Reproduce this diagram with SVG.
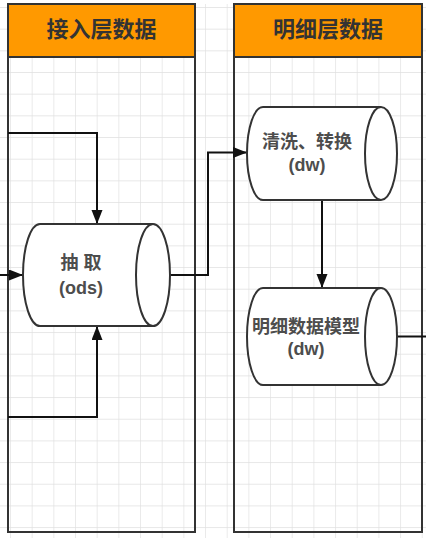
<svg xmlns="http://www.w3.org/2000/svg" width="426" height="538" viewBox="0 0 426 538">
<style>
.lane{fill:none;stroke:#333;stroke-width:2}
.hdr{fill:#ff9900;stroke:#333;stroke-width:2}
.htxt{font-family:"Liberation Sans","Noto Sans CJK SC",sans-serif;font-size:22px;font-weight:bold;fill:#333;text-anchor:middle}
.cyl{fill:#fff;stroke:#333;stroke-width:2}
.ctxt{font-family:"Liberation Sans","Noto Sans CJK SC",sans-serif;font-size:18px;font-weight:bold;fill:#4d4d4d;text-anchor:middle}
.edge{fill:none;stroke:#111;stroke-width:2}
</style>
<defs>
<pattern id="grid" patternUnits="userSpaceOnUse" x="10" y="7" width="21.67" height="21.67">
<path d="M0 0H21.67M0 0V21.67" fill="none" stroke="#e0e0e0" stroke-width="1.3"/>
</pattern>
<marker id="arr" markerUnits="userSpaceOnUse" markerWidth="16" markerHeight="12" refX="14" refY="5.5" orient="auto">
<path d="M0 0L14 5.5L0 11Z" fill="#111"/>
</marker>
</defs>
<rect x="0" y="0" width="426" height="538" fill="#fff"/>
<rect x="0" y="0" width="426" height="538" fill="url(#grid)"/>
<rect x="0" y="0" width="426" height="4" fill="#fff"/>
<g id="lane-ods">
<rect class="lane" x="8" y="4" width="187" height="528"/>
<rect class="hdr" x="8" y="4" width="187" height="53"/>
<text class="htxt" x="101.5" y="37">接入层数据</text>
</g>
<g id="lane-dw">
<rect class="lane" x="234" y="4" width="188" height="528"/>
<rect class="hdr" x="234" y="4" width="188" height="53"/>
<text class="htxt" x="328" y="37">明细层数据</text>
</g>
<g id="connectors">
<path class="edge" d="M8 133H97V224" marker-end="url(#arr)"/>
<path class="edge" d="M8 417H97V326" marker-end="url(#arr)"/>
<path class="edge" d="M0 275H23" marker-end="url(#arr)"/>
<path class="edge" d="M170 275H208V152.5H247" marker-end="url(#arr)"/>
<path class="edge" d="M322 200V288" marker-end="url(#arr)"/>
<path class="edge" d="M397 336.5H426"/>
</g>
<g id="node-ods">
<path class="cyl" d="M40 224L153 224A17 51 0 0 1 153 326L40 326A17 51 0 0 1 40 224Z"/>
<path class="cyl" d="M153 224A17 51 0 0 0 153 326" fill="none"/>
<text class="ctxt" x="81" y="269">抽 取</text>
<text class="ctxt" x="81" y="294">(ods)</text>
</g>
<g id="node-clean">
<path class="cyl" d="M263 107L381 107A16 46.5 0 0 1 381 200L263 200A16 46.5 0 0 1 263 107Z"/>
<path class="cyl" d="M381 107A16 46.5 0 0 0 381 200" fill="none"/>
<text class="ctxt" x="307" y="148">清洗、转换</text>
<text class="ctxt" x="307" y="171">(dw)</text>
</g>
<g id="node-model">
<path class="cyl" d="M263 288L381 288A16 48.5 0 0 1 381 385L263 385A16 48.5 0 0 1 263 288Z"/>
<path class="cyl" d="M381 288A16 48.5 0 0 0 381 385" fill="none"/>
<text class="ctxt" x="306" y="333">明细数据模型</text>
<text class="ctxt" x="306" y="355">(dw)</text>
</g>
</svg>
